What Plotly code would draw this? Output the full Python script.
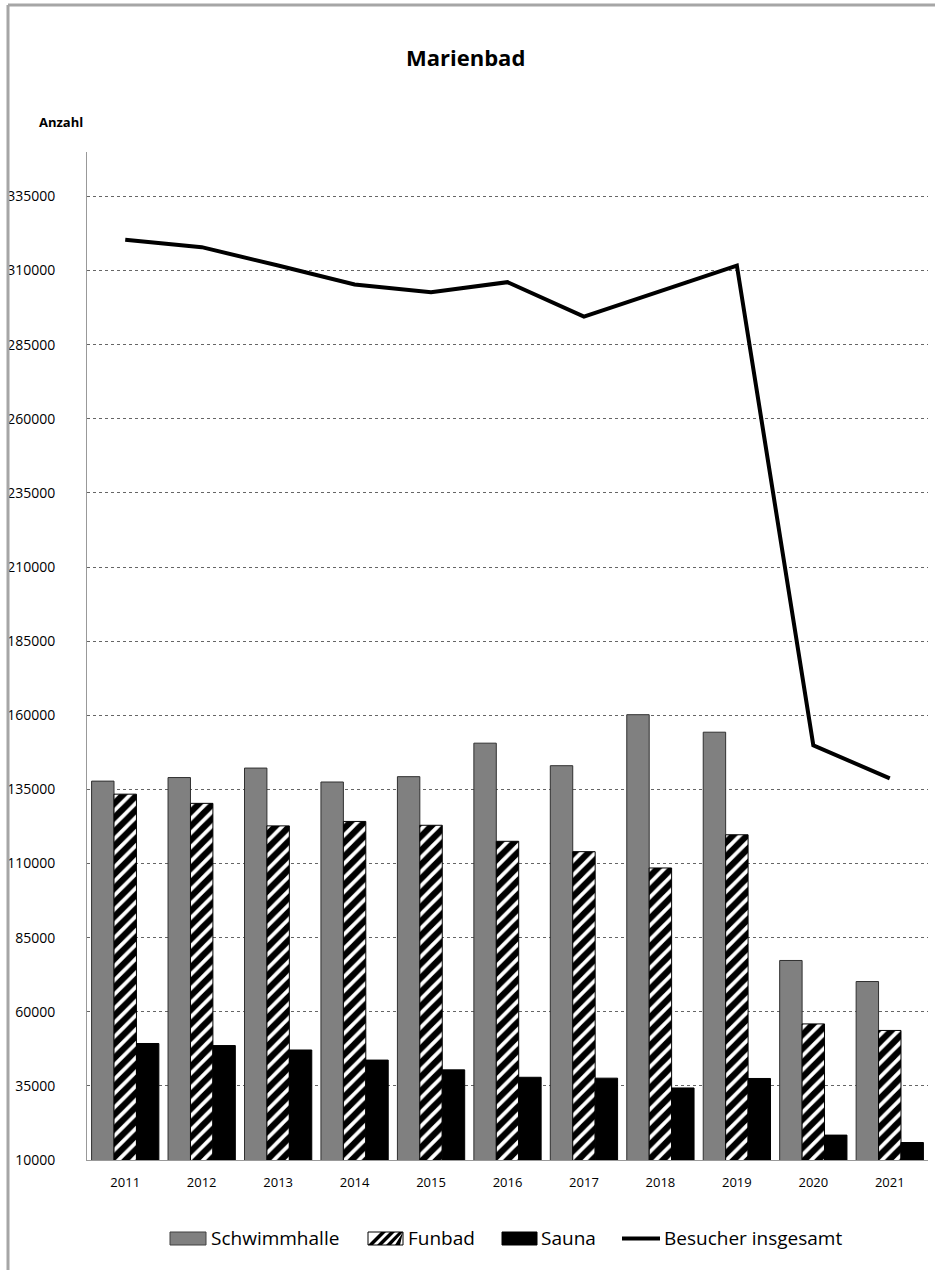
import plotly.graph_objects as go

years = ["2011", "2012", "2013", "2014", "2015", "2016", "2017", "2018", "2019", "2020", "2021"]
schwimmhalle = [137800, 139000, 142200, 137500, 139300, 150600, 143000, 160200, 154300, 77300, 70200]
funbad = [133400, 130300, 122700, 124200, 122900, 117500, 114000, 108500, 119700, 55900, 53700]
sauna = [49300, 48600, 47100, 43700, 40400, 37900, 37600, 34300, 37500, 18400, 15900]
gesamt = [320400, 317900, 311700, 305300, 302700, 306100, 294500, 303000, 311700, 149900, 138700]
y_ticks = list(range(10000, 335001, 25000))
series_names = ["Schwimmhalle", "Funbad", "Sauna", "Besucher insgesamt"]

W, H = 935, 1270
L, R, T, B = 87, 7, 152, 110
pw, ph = W - L - R, H - T - B

def px(x):
    return (x - L) / pw

def py(y):
    return (H - B - y) / ph

FONT = "Open Sans, Lato, sans-serif"

fig = go.Figure()
fig.add_trace(go.Bar(
    x=years, y=schwimmhalle, name=series_names[0], showlegend=False,
    marker=dict(color="#808080", line=dict(color="#303030", width=1)),
))
fig.add_trace(go.Bar(
    x=years, y=funbad, name=series_names[1], showlegend=False,
    marker=dict(color="white", line=dict(color="black", width=1),
                pattern=dict(shape="/", fgcolor="black", bgcolor="white", fgopacity=1,
                             size=10, solidity=0.62)),
))
fig.add_trace(go.Bar(
    x=years, y=sauna, name=series_names[2], showlegend=False,
    marker=dict(color="black", line=dict(color="black", width=1)),
))
fig.add_trace(go.Scatter(
    x=years, y=gesamt, name=series_names[3], mode="lines", showlegend=False,
    line=dict(color="black", width=4),
))

# ---- custom legend (keys + labels), page pixel positions ----
ky0, ky1 = 1232, 1245
shapes = [
    # chart frame (left and top edges visible)
    dict(type="line", xref="paper", yref="paper", x0=px(8), x1=px(8), y0=py(1270), y1=py(5),
         line=dict(color="#a6a6a6", width=3)),
    dict(type="line", xref="paper", yref="paper", x0=px(8), x1=px(935), y0=py(5), y1=py(5),
         line=dict(color="#a6a6a6", width=3)),
    # Schwimmhalle key
    dict(type="rect", xref="paper", yref="paper", x0=px(170), x1=px(206), y0=py(ky1), y1=py(ky0),
         fillcolor="#808080", line=dict(color="#404040", width=1)),
    # Funbad key
    dict(type="rect", xref="paper", yref="paper", x0=px(368), x1=px(403), y0=py(ky1), y1=py(ky0),
         fillcolor="white", line=dict(color="black", width=1)),
    # Sauna key
    dict(type="rect", xref="paper", yref="paper", x0=px(502), x1=px(537), y0=py(ky1), y1=py(ky0),
         fillcolor="black", line=dict(color="black", width=1)),
    # Besucher key
    dict(type="line", xref="paper", yref="paper", x0=px(622), x1=px(660), y0=py(1238.5), y1=py(1238.5),
         line=dict(color="black", width=4)),
]
# diagonal stripes inside Funbad key
for sx in [368, 377, 386, 395]:
    pts = [(sx, ky1), (sx + 5, ky1), (min(sx + 18, 403), ky0), (min(sx + 13, 403), ky0)]
    path = "M " + " L ".join(f"{px(a):.5f},{py(b):.5f}" for a, b in pts) + " Z"
    shapes.append(dict(type="path", xref="paper", yref="paper", path=path,
                       fillcolor="black", line=dict(width=0)))

legend_text_x = [209, 406, 539, 662]
annotations = [
    dict(text="<b>Marienbad</b>", x=px(465), y=py(57), xref="paper", yref="paper",
         showarrow=False, xanchor="center", yanchor="middle", font=dict(size=22, family=FONT)),
    dict(text="<b>Anzahl</b>", x=px(61), y=py(122), xref="paper", yref="paper",
         showarrow=False, xanchor="center", yanchor="middle", font=dict(size=13, family=FONT)),
]
for name, tx in zip(series_names, legend_text_x):
    annotations.append(dict(text=name, x=px(tx), y=py(1238), xref="paper", yref="paper",
                            showarrow=False, xanchor="left", yanchor="middle",
                            font=dict(size=19, family=FONT)))

fig.update_layout(
    width=W, height=H,
    margin=dict(l=L, r=R, t=T, b=B),
    paper_bgcolor="white", plot_bgcolor="white",
    barmode="group", bargap=0.12, bargroupgap=0,
    font=dict(family=FONT, color="black"),
    showlegend=False,
    xaxis=dict(
        showline=True, linecolor="#999999", linewidth=1, showgrid=False,
        ticks="", tickfont=dict(size=13, family=FONT), ticklabelstandoff=10,
    ),
    yaxis=dict(
        range=[10000, 350000], tickvals=y_ticks, ticktext=[str(v) for v in y_ticks],
        showline=True, linecolor="#999999", linewidth=1,
        showgrid=True, gridcolor="#666666", griddash="dot", gridwidth=1,
        ticks="", tickfont=dict(size=14, family=FONT), ticklabelstandoff=28,
        zeroline=False,
    ),
    annotations=annotations,
    shapes=shapes,
)

fig.write_html(
    "out.html",
    config={"displayModeBar": False},
    post_script="document.body.style.margin='0';document.body.style.overflow='hidden';",
)
